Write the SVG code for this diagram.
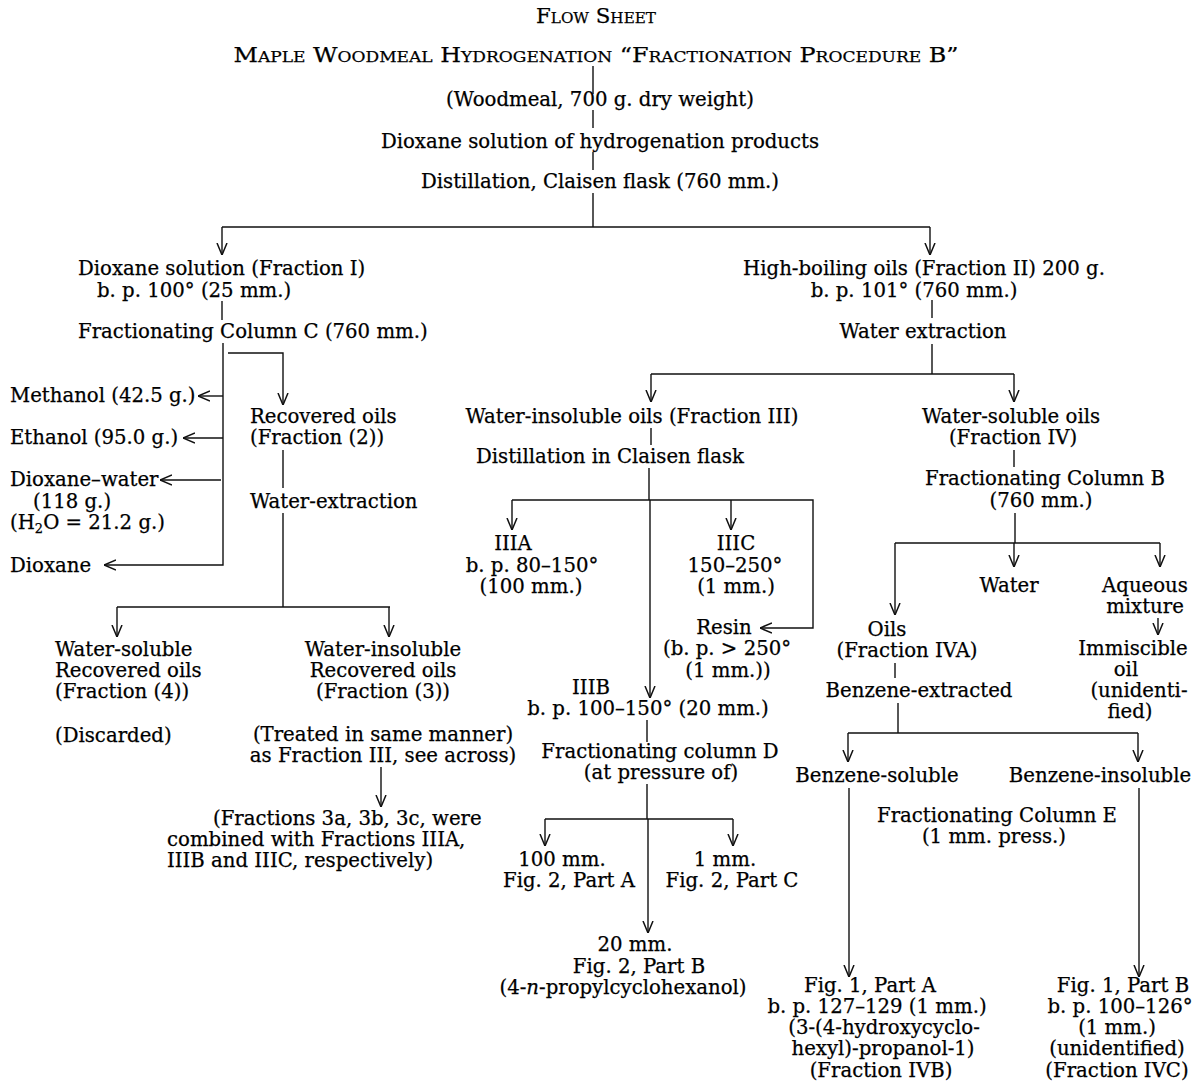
<svg xmlns="http://www.w3.org/2000/svg" width="1192" height="1089" viewBox="0 0 1192 1089">
<style>
text{font-family:"DejaVu Serif","Liberation Serif",serif;font-size:19.7px;fill:#000;stroke:#000;stroke-width:0.25}
.m{text-anchor:middle}
.sc{font-variant:small-caps;font-size:21px}
.c{stroke:#111;stroke-width:1.4;fill:none}
.a{stroke:#111;stroke-width:1.4;fill:none;marker-end:url(#ah)}
</style>
<defs>
<marker id="ah" viewBox="0 0 12 12" refX="12" refY="6" markerWidth="12" markerHeight="12" markerUnits="userSpaceOnUse" orient="auto">
<path d="M0,1 L12,6 L0,11" fill="none" stroke="#111" stroke-width="1.5"/>
</marker>
</defs>
<rect width="1192" height="1089" fill="#fff"/>

<g id="connectors">
<path class="c" d="M593,66 V94 M593,110 V128 M593,152 V170 M593,193 V227 M222,227 H930"/>
<path class="a" d="M222,227 V255"/>
<path class="a" d="M930,227 V255"/>
<path class="c" d="M222,301 V320"/>
<path class="a" d="M223,343 V565 H104"/>
<path class="a" d="M228,353 H283 V405"/>
<path class="a" d="M223,396 H198"/>
<path class="a" d="M223,438 H183"/>
<path class="a" d="M221,480 H160"/>
<path class="c" d="M283,450 V488 M283,513 V607 M117,607 H390"/>
<path class="a" d="M117,607 V637"/>
<path class="a" d="M389,607 V637"/>
<path class="a" d="M381,767 V807"/>
<path class="c" d="M932,300 V318 M932,344 V374 M651,374 H1014"/>
<path class="a" d="M651,374 V402"/>
<path class="a" d="M1014,374 V402"/>
<path class="c" d="M651,428 V445 M649,468 V500"/>
<path class="a" d="M512,500 H813 V628 H760"/>
<path class="a" d="M512,500 V530"/>
<path class="a" d="M731,500 V530"/>
<path class="a" d="M650,500 V698"/>
<path class="c" d="M647,720 V742 M647,784 V819 M545,819 H733"/>
<path class="a" d="M545,819 V846"/>
<path class="a" d="M733,819 V846"/>
<path class="a" d="M648,819 V933"/>
<path class="c" d="M1014,450 V467 M1015,513 V543 M895,543 H1160"/>
<path class="a" d="M895,543 V615"/>
<path class="a" d="M1014,543 V567"/>
<path class="a" d="M1160,543 V567"/>
<path class="a" d="M1158,618 V635"/>
<path class="c" d="M895,663 V678 M898,703 V733 M848,733 H1138"/>
<path class="a" d="M848,733 V762"/>
<path class="a" d="M1138,733 V762"/>
<path class="a" d="M849,788 V977"/>
<path class="a" d="M1139,788 V977"/>
</g>

<g id="title"><text class="m sc" x="596" y="23" textLength="120" lengthAdjust="spacingAndGlyphs">Flow Sheet</text></g>
<g id="title2"><text class="m sc" x="596" y="62" textLength="725" lengthAdjust="spacingAndGlyphs">Maple Woodmeal Hydrogenation “Fractionation Procedure B”</text></g>
<g id="woodmeal"><text class="m" x="600" y="106">(Woodmeal, 700 g. dry weight)</text></g>
<g id="dioxane-solution"><text class="m" x="600" y="148">Dioxane solution of hydrogenation products</text></g>
<g id="distillation"><text class="m" x="600" y="188">Distillation, Claisen flask (760 mm.)</text></g>

<g id="fraction-I"><text x="78" y="275">Dioxane solution (Fraction I)</text><text x="97" y="297">b. p. 100° (25 mm.)</text></g>
<g id="column-C"><text x="78" y="338">Fractionating Column C (760 mm.)</text></g>
<g id="methanol"><text x="10" y="402">Methanol (42.5 g.)</text></g>
<g id="ethanol"><text x="10" y="444">Ethanol (95.0 g.)</text></g>
<g id="dioxane-water"><text x="10" y="486">Dioxane–water</text><text x="33" y="508">(118 g.)</text><text x="10" y="529">(H<tspan font-size="13" dy="4">2</tspan><tspan dy="-4">O = 21.2 g.)</tspan></text></g>
<g id="dioxane"><text x="10" y="572">Dioxane</text></g>
<g id="recovered-oils"><text x="250" y="423">Recovered oils</text><text x="250" y="444">(Fraction (2))</text></g>
<g id="water-extraction-2"><text x="250" y="508">Water-extraction</text></g>
<g id="fraction-4"><text x="55" y="656">Water-soluble</text><text x="55" y="677">Recovered oils</text><text x="55" y="698">(Fraction (4))</text><text x="55" y="742">(Discarded)</text></g>
<g id="fraction-3"><text class="m" x="383" y="656">Water-insoluble</text><text class="m" x="383" y="677">Recovered oils</text><text class="m" x="383" y="698">(Fraction (3))</text><text class="m" x="383" y="741">(Treated in same manner)</text><text class="m" x="383" y="762">as Fraction III, see across)</text></g>
<g id="fractions-3abc"><text x="213" y="825">(Fractions 3a, 3b, 3c, were</text><text x="167" y="846">combined with Fractions IIIA,</text><text x="167" y="867">IIIB and IIIC, respectively)</text></g>

<g id="fraction-II"><text class="m" x="924" y="275">High-boiling oils (Fraction II) 200 g.</text><text class="m" x="914" y="297">b. p. 101° (760 mm.)</text></g>
<g id="water-extraction"><text class="m" x="923" y="338">Water extraction</text></g>
<g id="fraction-III"><text class="m" x="632" y="423">Water-insoluble oils (Fraction III)</text></g>
<g id="distillation-claisen"><text class="m" x="610" y="463">Distillation in Claisen flask</text></g>
<g id="IIIA"><text class="m" x="513" y="550">IIIA</text><text class="m" x="532" y="572">b. p. 80–150°</text><text class="m" x="531" y="593">(100 mm.)</text></g>
<g id="IIIC"><text class="m" x="736" y="550">IIIC</text><text class="m" x="735" y="572">150–250°</text><text class="m" x="736" y="593">(1 mm.)</text></g>
<g id="resin"><text class="m" x="724" y="634">Resin</text><text class="m" x="727" y="655">(b. p. &gt; 250°</text><text class="m" x="728" y="677">(1 mm.))</text></g>
<g id="IIIB"><text class="m" x="591" y="694">IIIB</text><text class="m" x="648" y="715">b. p. 100–150° (20 mm.)</text></g>
<g id="column-D"><text class="m" x="660" y="758">Fractionating column D</text><text class="m" x="661" y="779">(at pressure of)</text></g>
<g id="d-100mm"><text class="m" x="562" y="866">100 mm.</text><text class="m" x="569" y="887">Fig. 2, Part A</text></g>
<g id="d-1mm"><text class="m" x="725" y="866">1 mm.</text><text class="m" x="732" y="887">Fig. 2, Part C</text></g>
<g id="d-20mm"><text class="m" x="635" y="951">20 mm.</text><text class="m" x="639" y="973">Fig. 2, Part B</text><text class="m" x="623" y="994">(4-<tspan font-style="italic">n</tspan>-propylcyclohexanol)</text></g>

<g id="fraction-IV"><text class="m" x="1011" y="423">Water-soluble oils</text><text class="m" x="1013" y="444">(Fraction IV)</text></g>
<g id="column-B"><text class="m" x="1045" y="485">Fractionating Column B</text><text class="m" x="1041" y="507">(760 mm.)</text></g>
<g id="water"><text class="m" x="1009" y="592">Water</text></g>
<g id="aqueous"><text class="m" x="1145" y="592">Aqueous</text><text class="m" x="1145" y="613">mixture</text></g>
<g id="immiscible"><text class="m" x="1133" y="655">Immiscible</text><text class="m" x="1126" y="676">oil</text><text class="m" x="1139" y="697">(unidenti-</text><text class="m" x="1130" y="718">fied)</text></g>
<g id="fraction-IVA"><text class="m" x="887" y="636">Oils</text><text class="m" x="907" y="657">(Fraction IVA)</text></g>
<g id="benzene-extracted"><text class="m" x="919" y="697">Benzene-extracted</text></g>
<g id="benzene-soluble"><text class="m" x="877" y="782">Benzene-soluble</text></g>
<g id="benzene-insoluble"><text class="m" x="1100" y="782">Benzene-insoluble</text></g>
<g id="column-E"><text class="m" x="997" y="822">Fractionating Column E</text><text class="m" x="994" y="843">(1 mm. press.)</text></g>
<g id="fraction-IVB"><text class="m" x="870" y="992">Fig. 1, Part A</text><text class="m" x="877" y="1013">b. p. 127–129 (1 mm.)</text><text class="m" x="884" y="1034">(3-(4-hydroxycyclo-</text><text class="m" x="883" y="1055">hexyl)-propanol-1)</text><text class="m" x="881" y="1077">(Fraction IVB)</text></g>
<g id="fraction-IVC"><text class="m" x="1123" y="992">Fig. 1, Part B</text><text class="m" x="1120" y="1013">b. p. 100–126°</text><text class="m" x="1117" y="1034">(1 mm.)</text><text class="m" x="1117" y="1055">(unidentified)</text><text class="m" x="1117" y="1077">(Fraction IVC)</text></g>
</svg>
